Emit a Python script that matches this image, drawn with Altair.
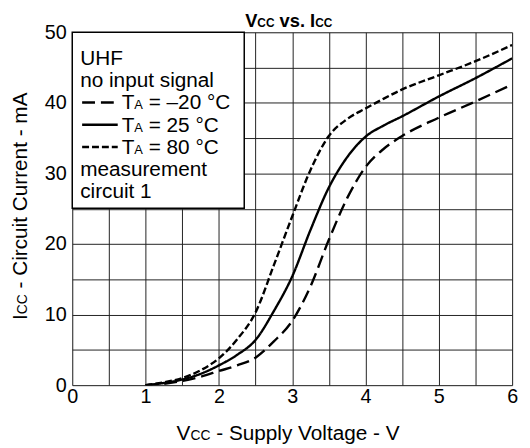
import altair as alt
import pandas as pd

# ---- data ----
vcc = [1.0, 1.25, 1.5, 1.75, 2.0, 2.25, 2.5, 2.75, 3.0, 3.25, 3.5, 3.75, 4.0, 4.25, 4.5, 5.0, 5.5, 6.0]
icc_m20 = [0.0, 0.2, 0.6, 1.2, 2.0, 2.8, 3.9, 6.2, 9.1, 14.0, 20.6, 26.5, 30.9, 33.5, 35.3, 37.9, 40.2, 42.6]
icc_25 = [0.0, 0.3, 0.8, 1.6, 2.8, 4.3, 6.4, 10.5, 15.4, 22.0, 28.0, 32.3, 35.2, 36.8, 38.1, 40.9, 43.5, 46.3]
icc_80 = [0.0, 0.4, 1.0, 2.1, 3.8, 6.5, 10.3, 17.0, 23.9, 30.5, 35.3, 37.7, 39.2, 40.6, 41.9, 43.9, 45.9, 48.2]
series_names = ["-20", "25", "80"]
x_grid = [0, 0.5, 1, 1.5, 2, 2.5, 3, 3.5, 4, 4.5, 5, 5.5, 6]
y_grid = [0, 5, 10, 15, 20, 25, 30, 35, 40, 45, 50]

rows = []
for name, vals in zip(series_names, [icc_m20, icc_25, icc_80]):
    for v, i in zip(vcc, vals):
        rows.append({"vcc": v, "icc": i, "temp": name})
df = pd.DataFrame(rows)

FONT = "Arial, Liberation Sans, sans-serif"
W, H = 445, 357

REG = {' ': 278, '-': 333, '–': 556, '=': 584, '°': 400, '.': 278, 'A': 667, 'C': 722,
       'F': 611, 'H': 722, 'I': 278, 'S': 667, 'T': 611, 'U': 722, 'V': 667, 'a': 556,
       'c': 500, 'e': 556, 'g': 556, 'i': 222, 'l': 222, 'm': 833, 'n': 556, 'o': 556,
       'p': 556, 'r': 333, 's': 500, 't': 278, 'u': 556, 'v': 500, 'y': 500}
BOLD = {' ': 278, '.': 278, 'C': 722, 'I': 278, 'V': 667, 'v': 556, 's': 556}


def tw(s, size, bold=False):
    tab = BOLD if bold else REG
    return sum(tab.get(c, 556) for c in s) / 1000.0 * size


one = alt.InlineData(values=[{"k": 0}])


def piece(text, x, y, size, bold=False, angle=0):
    return alt.Chart(one).mark_text(
        text=text, align="left", baseline="alphabetic", font=FONT, fontSize=size,
        fontWeight="bold" if bold else "normal", color="black", angle=angle
    ).encode(x=alt.value(x), y=alt.value(y))


def split_lead(t):
    s = t.lstrip(" ")
    return t[: len(t) - len(s)], s


def compose(pieces, x0, y, bold=False, center=False):
    total = sum(tw(t, s, bold) for t, s in pieces)
    x = x0 - total / 2 if center else x0
    out = []
    for t, s in pieces:
        lead, body = split_lead(t)
        x += tw(lead, s, bold)
        out.append(piece(body, x, y, s, bold))
        x += tw(body, s, bold)
    return out


def compose_vertical(pieces, xb, yc):
    total = sum(tw(t, s) for t, s in pieces)
    y = yc + total / 2
    out = []
    for t, s in pieces:
        lead, body = split_lead(t)
        y -= tw(lead, s)
        out.append(piece(body, xb, y, s, angle=270))
        y -= tw(body, s)
    return out


base = alt.Chart(df)

lines = base.mark_line(interpolate="monotone", color="black", strokeWidth=2.4, clip=True).encode(
    x=alt.X("vcc:Q", scale=alt.Scale(domain=[0, 6], nice=False),
            axis=alt.Axis(values=x_grid, grid=True, ticks=False, domain=False, title=None,
                          labelExpr="datum.value % 1 === 0 ? '' + datum.value : ''",
                          labelFontSize=20, labelFont=FONT, labelColor="black",
                          labelPadding=2, labelFlush=False, labelOverlap=False,
                          gridColor="#222", gridWidth=1)),
    y=alt.Y("icc:Q", scale=alt.Scale(domain=[0, 50], nice=False),
            axis=alt.Axis(values=y_grid, grid=True, ticks=False, domain=False, title=None,
                          labelExpr="datum.value % 10 === 0 ? '' + datum.value : ''",
                          labelFontSize=20, labelFont=FONT, labelColor="black",
                          labelPadding=6, labelFlush=False, labelOverlap=False,
                          gridColor="#222", gridWidth=1)),
    strokeDash=alt.StrokeDash("temp:N", legend=None,
                              scale=alt.Scale(domain=series_names,
                                              range=[[13, 6], [1, 0], [7, 3]])),
    detail="temp:N",
)

# legend box
box = alt.Chart(one).mark_rect(fill="white", stroke="black", strokeWidth=1.5).encode(
    x=alt.value(0), x2=alt.value(174), y=alt.value(0), y2=alt.value(178))

layers = [lines, box]

# legend text
layers += compose([("UHF", 21)], 8, 33)
layers += compose([("no input signal", 21)], 8, 55.5)
entry_labels = [" = –20 °C", " = 25 °C", " = 80 °C"]
entry_dash = [[13, 6], [1, 0], [7, 3]]
for k, (lab, dash) in enumerate(zip(entry_labels, entry_dash)):
    yb = 78 + 22.5 * k
    layers += compose([("T", 21), ("A", 13), (lab, 21)], 50, yb)
    layers.append(alt.Chart(one).mark_rule(color="black", strokeWidth=2.4, strokeDash=dash).encode(
        x=alt.value(10), x2=alt.value(46), y=alt.value(yb - 7)))
layers += compose([("measurement", 21)], 8, 145.5)
layers += compose([("circuit 1", 21)], 8, 168)

# titles
layers += compose([("V", 18.5), ("CC", 12), (" vs. I", 18.5), ("CC", 12)], 219, -5, bold=True, center=True)
layers += compose([("V", 21), ("CC", 14), (" - Supply Voltage - V", 21)], 219, 412, center=True)
layers += compose_vertical([("I", 21), ("CC", 14), (" - Circuit Current - mA", 21)], -46, 176)

chart = alt.layer(*layers).properties(
    width=W, height=H,
    autosize=alt.AutoSizeParams(type="none"),
    padding={"left": 65, "top": 22, "right": 10, "bottom": 60},
).configure_view(stroke="black", strokeWidth=2.5).configure(background="white")

chart.save("out.html", embed_options={"renderer": "svg", "actions": False})
